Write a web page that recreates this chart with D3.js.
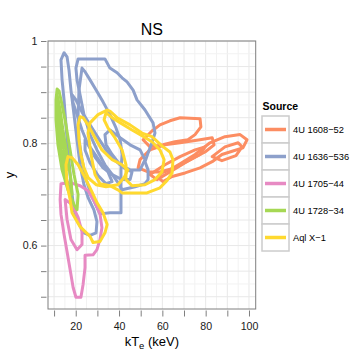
<!DOCTYPE html>
<html>
<head>
<meta charset="utf-8">
<script src="https://cdn.jsdelivr.net/npm/d3@7"></script>
<style>
  body { margin: 0; background: #fff; }
  svg { font-family: "Liberation Sans", Arial, sans-serif; }
</style>
</head>
<body>
<svg width="357" height="357"></svg>
<script>
// sources and legend colours
var sources = ['4U 1608\u221252', '4U 1636\u2212536', '4U 1705\u221244', '4U 1728\u221234', 'Aql X\u22121'];
var colors = ['#fc8d62', '#8da0cb', '#e78ac3', '#a6d854', '#ffd92f'];

// contours, [kTe, y] pairs
var ctr1608 = [
  [[51.1,.807],[55.2,.824],[58.9,.836],[63.5,.844],[68.2,.850],[77.4,.848],[77.8,.832],[75.1,.817],[71.8,.807],[65.8,.803],[60.3,.797],[54.3,.793]],
  [[59.8,.742],[63.5,.748],[68.2,.760],[75.1,.778],[82.0,.801],[88.9,.813],[95.9,.817],[99.1,.807],[97.2,.791],[92.6,.785],[87.5,.778],[83.0,.764],[77.4,.752],[70.5,.742],[64.5,.735],[60.3,.725],[58.0,.733]],
  [[48.8,.752],[49.7,.768],[54.3,.787],[61.2,.797],[68.2,.801],[77.4,.807],[83.0,.811],[83.9,.797],[79.7,.783],[72.8,.768],[65.8,.752],[58.9,.744],[53.4,.744]],
  [[83.0,.774],[88.9,.793],[95.0,.801],[96.8,.793],[94.0,.776],[87.5,.766]],
  [[54.3,.739],[61.2,.758],[68.2,.774],[75.1,.787],[79.7,.793],[77.4,.778],[70.5,.762],[63.5,.744],[57.5,.729]]
];
var ctr1636 = [
  [[14.6,.977],[13.2,.963],[13.7,.924],[14.6,.885],[15.5,.836],[16.4,.787],[17.4,.739],[18.3,.700],[19.2,.670],[21.1,.645],[23.8,.625],[26.6,.620],[29.4,.625],[29.8,.647],[28.4,.670],[25.7,.694],[23.8,.719],[22.0,.758],[20.6,.807],[19.2,.856],[17.8,.904],[16.9,.943],[16.0,.969]],
  [[21.1,.965],[33.5,.965],[35.8,.947],[39.1,.938],[41.4,.928],[43.7,.920],[46.5,.904],[48.3,.885],[52.0,.865],[55.7,.840],[56.6,.820],[55.2,.801],[53.4,.781],[52.0,.764],[53.4,.748],[53.4,.729],[52.0,.721],[47.4,.715],[41.4,.709],[39.5,.723],[36.8,.739],[33.5,.758],[29.8,.787],[26.6,.817],[23.8,.856],[22.0,.895],[20.6,.924],[20.1,.947]],
  [[22.9,.947],[24.3,.940],[26.6,.924],[29.4,.904],[32.6,.881],[35.8,.856],[38.6,.830],[40.5,.807],[41.4,.778],[40.9,.748],[40.9,.723],[40.9,.700],[40.9,.664],[35.8,.664],[31.2,.662],[29.4,.678],[27.1,.700],[24.8,.729],[22.9,.768],[21.5,.807],[21.1,.856],[21.5,.904]],
  [[18.3,.895],[20.1,.885],[22.9,.861],[26.6,.836],[30.3,.811],[34.0,.787],[37.7,.768],[42.3,.752],[46.0,.744],[45.1,.729],[41.4,.729],[36.8,.739],[32.6,.752],[28.9,.773],[25.7,.797],[22.9,.826],[20.6,.856],[18.8,.879]],
  [[24.3,.807],[27.5,.787],[31.2,.764],[34.9,.744],[36.8,.725],[34.0,.721],[30.3,.737],[26.6,.762],[24.3,.787]],
  [[35.8,.826],[40.5,.811],[45.1,.797],[49.7,.787],[52.0,.768],[49.7,.748],[45.1,.748],[40.5,.758],[36.8,.778],[34.0,.797],[33.5,.817]]
];
var ctr1705 = [
  [[13.2,.721],[12.8,.690],[13.2,.661],[14.6,.622],[16.0,.588],[17.4,.553],[18.8,.518],[20.1,.499],[22.4,.499],[23.4,.524],[24.3,.557],[24.3,.581],[28.0,.582],[29.8,.592],[31.2,.612],[32.1,.635],[31.2,.662],[28.9,.684],[25.7,.707],[22.0,.717],[17.4,.723]],
  [[15.1,.690],[16.0,.651],[17.8,.612],[20.6,.592],[22.9,.602],[22.9,.627],[21.1,.655],[18.3,.680]]
];
var ctr1728 = [
  [[11.4,.906],[12.3,.902],[13.7,.875],[15.5,.836],[17.4,.787],[19.2,.739],[21.1,.700],[20.6,.670],[19.2,.680],[16.4,.709],[13.7,.748],[11.8,.797],[10.9,.846],[10.9,.885]],
  [[11.4,.895],[12.8,.865],[14.1,.826],[16.0,.778],[17.8,.729],[18.3,.700],[16.9,.713],[14.6,.748],[12.8,.797],[11.8,.846]],
  [[11.8,.885],[13.2,.836],[14.6,.787],[16.0,.748],[15.1,.748],[13.2,.787],[12.3,.836]]
];
var ctrAql = [
  [[34.5,.865],[30.3,.856],[26.6,.840],[25.7,.820],[26.6,.793],[27.5,.768],[28.9,.739],[31.2,.721],[35.8,.717],[39.5,.709],[41.4,.703],[52.9,.703],[58.9,.713],[62.1,.727],[64.5,.742],[64.9,.768],[63.5,.783],[59.8,.795],[55.2,.813],[50.6,.820],[45.1,.836],[39.1,.850],[35.8,.863]],
  [[34.0,.860],[36.8,.850],[41.4,.838],[46.0,.826],[50.6,.815],[55.2,.803],[58.9,.787],[60.8,.768],[59.8,.744],[56.6,.729],[52.0,.719],[46.0,.717],[43.2,.729],[43.2,.758],[41.4,.787],[38.1,.811],[34.9,.830],[33.1,.846]],
  [[22.0,.852],[21.1,.836],[21.5,.807],[22.4,.778],[23.8,.752],[25.7,.733],[29.4,.719],[34.0,.715],[39.5,.719],[42.3,.733],[44.1,.748],[41.4,.758],[36.8,.768],[32.1,.787],[28.9,.811],[25.7,.836],[23.4,.850]],
  [[16.4,.774],[15.5,.758],[16.0,.719],[17.4,.690],[18.3,.664],[22.0,.637],[26.6,.618],[28.0,.606],[31.2,.608],[33.5,.625],[34.5,.641],[32.6,.664],[29.8,.684],[27.5,.705],[24.3,.733],[21.1,.758],[18.3,.772]]
];
var contourSets = [ctr1608, ctr1636, ctr1705, ctr1728, ctrAql];

// axis ticks
var xTicks = [10, 20, 30, 40, 50, 60, 70, 80, 90, 100];
var xLabels = [20, 40, 60, 80, 100];
var yTicks = [0.5, 0.55, 0.6, 0.65, 0.7, 0.75, 0.8, 0.85, 0.9, 0.95, 1];
var yLabels = [0.6, 0.8, 1];

var svg = d3.select('svg');

// panel box
var panel = {l: 48, t: 41, r: 255.7, b: 309};

var xScale = d3.scaleLinear().domain([7.2, 103.1]).range([panel.l, panel.r]);
var yScale = d3.scaleLinear().domain([0.476, 1]).range([panel.b, panel.t]);

// grid (major + minor)
var gridG = svg.append('g');
gridG.selectAll('.vg')
    .data(d3.range(10, 101, 5))
    .enter().append('line')
    .attr('x1', function(d) { return xScale(d); })
    .attr('x2', function(d) { return xScale(d); })
    .attr('y1', panel.t).attr('y2', panel.b)
    .attr('stroke', function(d) { return d % 10 === 0 ? '#e8e8e8' : '#f2f2f2'; })
    .attr('stroke-width', 1);
gridG.selectAll('.hg')
    .data(d3.range(0, 21).map(function(i) { return 0.5 + i * 0.025; }))
    .enter().append('line')
    .attr('y1', function(d) { return yScale(d); })
    .attr('y2', function(d) { return yScale(d); })
    .attr('x1', panel.l).attr('x2', panel.r)
    .attr('stroke', function(d, i) { return i % 2 === 0 ? '#e8e8e8' : '#f2f2f2'; })
    .attr('stroke-width', 1);

// contours
var line = d3.line()
    .x(function(d) { return xScale(d[0]); })
    .y(function(d) { return yScale(d[1]); })
    .curve(d3.curveLinearClosed);

var clip = svg.append('clipPath').attr('id', 'clip')
    .append('rect')
    .attr('x', panel.l).attr('y', panel.t)
    .attr('width', panel.r - panel.l).attr('height', panel.b - panel.t);

var ctrG = svg.append('g').attr('clip-path', 'url(#clip)');
contourSets.forEach(function(set, i) {
    ctrG.selectAll('.c' + i)
        .data(set)
        .enter().append('path')
        .attr('d', line)
        .attr('fill', 'none')
        .attr('stroke', colors[i])
        .attr('stroke-width', 3)
        .attr('stroke-linejoin', 'round');
});

// panel border
svg.append('rect')
    .attr('x', panel.l).attr('y', panel.t)
    .attr('width', panel.r - panel.l).attr('height', panel.b - panel.t)
    .attr('fill', 'none')
    .attr('stroke', '#7f7f7f')
    .attr('stroke-width', 1);

// x axis
var xAxisG = svg.append('g')
    .attr('transform', 'translate(0,' + (panel.b + 1.5) + ')')
    .call(d3.axisBottom(xScale).tickValues(xTicks).tickSize(6)
        .tickFormat(function(d) { return xLabels.indexOf(d) >= 0 ? d : ''; }));
xAxisG.select('.domain').remove();
xAxisG.selectAll('line').attr('stroke', '#7f7f7f');
xAxisG.selectAll('text')
    .attr('fill', '#1a1a1a')
    .style('font-size', '10.6px')
    .style('font-family', '"Liberation Sans", Arial, sans-serif')
    .attr('dy', '0.95em');

// y axis
var yAxisG = svg.append('g')
    .attr('transform', 'translate(' + (panel.l - 1.5) + ',0)')
    .call(d3.axisLeft(yScale).tickValues(yTicks).tickSize(5.5)
        .tickFormat(function(d) {
            return yLabels.some(function(v) { return Math.abs(v - d) < 1e-6; }) ? d3.format('')(d) : '';
        }));
yAxisG.select('.domain').remove();
yAxisG.selectAll('line').attr('stroke', '#7f7f7f');
yAxisG.selectAll('text')
    .attr('fill', '#1a1a1a')
    .attr('x', -9)
    .style('font-size', '10.6px')
    .style('font-family', '"Liberation Sans", Arial, sans-serif');

// title and axis titles
svg.append('text')
    .attr('x', (panel.l + panel.r) / 2).attr('y', 35)
    .attr('text-anchor', 'middle')
    .style('font-size', '16px')
    .text('NS');

var xt = svg.append('text')
    .attr('x', (panel.l + panel.r) / 2).attr('y', 346)
    .attr('text-anchor', 'middle')
    .style('font-size', '13px');
xt.append('tspan').text('kT');
xt.append('tspan').attr('dy', 3).style('font-size', '9.5px').text('e');
xt.append('tspan').attr('dy', -3).text(' (keV)');

svg.append('text')
    .attr('transform', 'translate(14,' + ((panel.t + panel.b) / 2) + ') rotate(-90)')
    .attr('text-anchor', 'middle')
    .style('font-size', '13px')
    .text('y');

// legend
var legend = svg.append('g').attr('transform', 'translate(262,0)');
legend.append('text')
    .attr('x', 0.5).attr('y', 110)
    .style('font-size', '10.5px')
    .style('font-weight', 'bold')
    .text('Source');

var keySize = 27;
var keys = legend.selectAll('.key')
    .data(sources)
    .enter().append('g')
    .attr('class', 'key')
    .attr('transform', function(d, i) { return 'translate(0,' + (116 + i * keySize) + ')'; });
keys.append('rect')
    .attr('width', keySize).attr('height', keySize)
    .attr('fill', '#ffffff')
    .attr('stroke', '#cccccc')
    .attr('stroke-width', 1.5);
keys.append('line')
    .attr('x1', 3).attr('x2', 24)
    .attr('y1', keySize / 2).attr('y2', keySize / 2)
    .attr('stroke', function(d, i) { return colors[i]; })
    .attr('stroke-width', 3.5);
keys.append('text')
    .attr('x', 31).attr('y', keySize / 2)
    .attr('dy', '0.35em')
    .style('font-size', '9.3px')
    .text(function(d) { return d; });
</script>
</body>
</html>
